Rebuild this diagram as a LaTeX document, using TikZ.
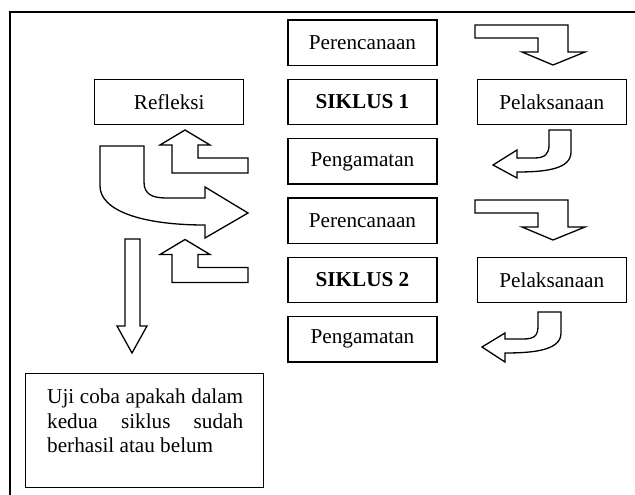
\documentclass[tikz,border=0pt]{standalone}
\usepackage{fontspec}
\setmainfont{Liberation Serif}
\usetikzlibrary{positioning}

\tikzset{
    box/.style={draw, line width=1.3pt, minimum width=149pt, minimum height=45.5pt,
        inner sep=0pt, font=\fontsize{21.2}{24.5}\selectfont},
    blockarrow/.style={draw, line width=1.3pt, line join=miter, fill=white}
}

\begin{document}
\begin{tikzpicture}[x=1pt, y=-1pt, node distance=12.5pt]
    \useasboundingbox (0,0) rectangle (635,495);
    \draw[line width=1.3pt] (10,495) -- (10,12) -- (635,12);

    % middle column
    \node[box] (ren1) at (362.5,42.75) {Perencanaan};
    \node[box, below=of ren1] (sik1) {\textbf{SIKLUS 1}};
    \node[box, below=of sik1] (amat1) {Pengamatan};
    \node[box, below=of amat1] (ren2) {Perencanaan};
    \node[box, below=of ren2] (sik2) {\textbf{SIKLUS 2}};
    \node[box, below=of sik2] (amat2) {Pengamatan};

    % side boxes
    \node[box, right=39pt of sik1] (laks1) {Pelaksanaan};
    \node[box, right=39pt of sik2] (laks2) {Pelaksanaan};
    \node[box, left=43pt of sik1] (refl) {Refleksi};
    \node[box, minimum width=238pt, minimum height=114pt, anchor=north west] (uji) at (25,373) {};
    \node[text width=196pt, align=justify, anchor=north west, inner sep=0pt,
        font=\fontsize{21.2}{24.5}\selectfont] (ujitext) at (47,389)
        {Uji coba apakah dalam\linebreak kedua siklus sudah\linebreak berhasil atau belum};

    % perencanaan -> pelaksanaan
    \foreach \dy in {0,175} {
        \draw[blockarrow, shift={(0,\dy)}] (475,25) -- (568,25) -- (568,52) -- (585,52)
            -- (553,65) -- (522,52) -- (538,52) -- (538,38) -- (475,38) -- cycle;
    }

    % pelaksanaan -> pengamatan
    \draw[blockarrow] (549,130) -- (571,130) -- (571,152)
        .. controls (571,169) and (546,172) .. (517,172) -- (517,178) -- (493,165)
        -- (517,150) -- (517,158) -- (534,158)
        .. controls (545,158) and (549,154) .. (549,145) -- cycle;
    \draw[blockarrow] (538,312) -- (561,312) -- (561,333)
        .. controls (561,350) and (535,353) .. (505,353) -- (505,362) -- (482,347)
        -- (505,333) -- (505,339) -- (523,339)
        .. controls (534,339) and (538,336) .. (538,326) -- cycle;

    % pengamatan -> refleksi
    \foreach \dy in {0,109.5} {
        \draw[blockarrow, shift={(0,\dy)}] (248,158) -- (198,158) -- (198,145) -- (210,145)
            -- (185,130) -- (160,145) -- (172,145) -- (172,173) -- (248,173) -- cycle;
    }

    % refleksi -> perencanaan
    \draw[blockarrow] (100,146) -- (144,146) -- (144,182)
        .. controls (144,194) and (152,198) .. (166,198) -- (205,198) -- (205,187)
        -- (248,213) -- (205,238) -- (205,225)
        .. controls (140,225) and (100,210) .. (100,186) -- cycle;

    % refleksi -> uji coba
    \draw[blockarrow] (125,239) -- (140,239) -- (140,326) -- (147,326) -- (132,353)
        -- (117,326) -- (125,326) -- cycle;
\end{tikzpicture}
\end{document}
